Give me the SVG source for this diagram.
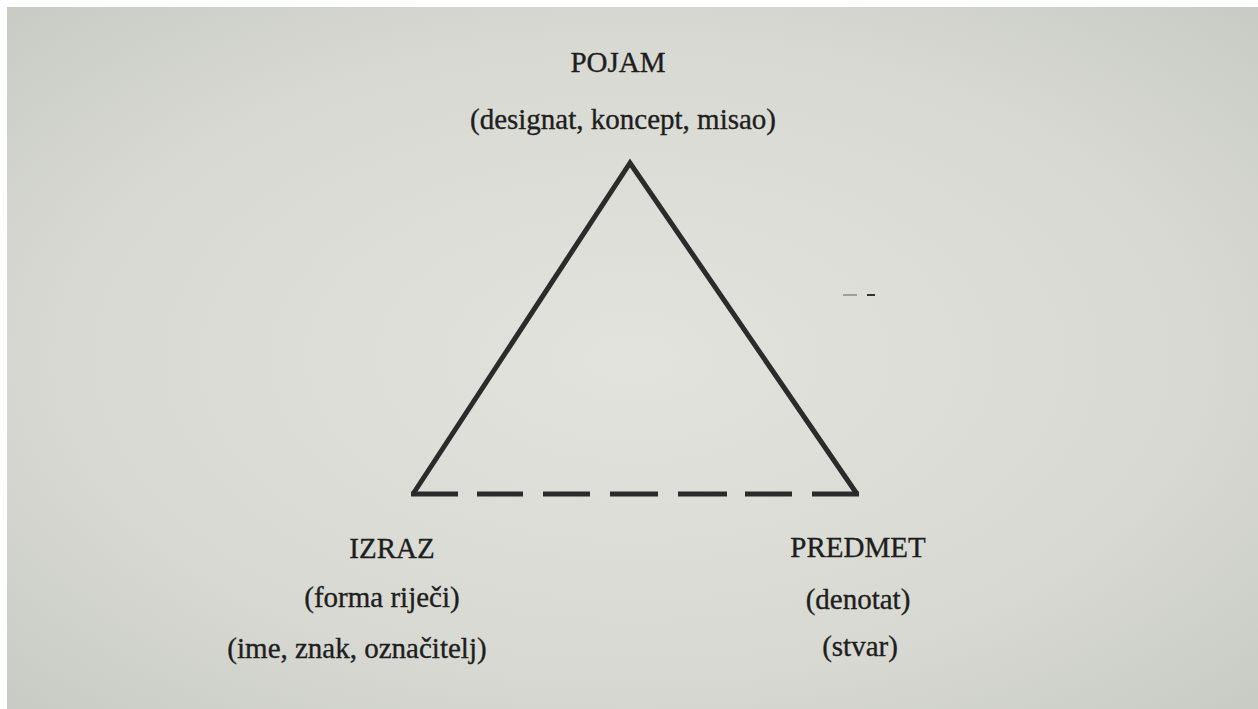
<svg xmlns="http://www.w3.org/2000/svg" width="1258" height="709" viewBox="0 0 1258 709">
<defs>
<radialGradient id="paper" cx="0.5" cy="0.5" r="0.75">
<stop offset="0" stop-color="#e2e3dd"/>
<stop offset="0.6" stop-color="#d8d9d3"/>
<stop offset="1" stop-color="#c6c8c2"/>
</radialGradient>
<style>
.t{font-family:"Liberation Serif","Times New Roman",serif;font-size:29px;fill:#1e1e1e;stroke:#1e1e1e;stroke-width:0.35;text-anchor:middle}
.edge{fill:none;stroke:#2b2b2b;stroke-width:5;stroke-linejoin:miter}
</style>
</defs>
<rect width="1258" height="709" fill="#ffffff"/>
<rect x="7" y="7" width="1251" height="702" fill="url(#paper)"/>
<g id="connectors">
<path class="edge" d="M413,494 L630,163 L857,494"/>
<path class="edge" d="M411,494 H458 M477,494 H523 M543,494 H590 M610,494 H658 M678,494 H727 M745,494 H792 M812,494 H859"/>
</g>
<g id="stray-mark">
<line x1="843" y1="295" x2="857" y2="295" stroke="#888" stroke-width="1.5"/>
<line x1="867" y1="295" x2="875" y2="295" stroke="#333" stroke-width="2"/>
</g>
<g id="node-pojam">
<text class="t" x="618" y="72">POJAM</text>
<text class="t" x="623" y="129">(designat, koncept, misao)</text>
</g>
<g id="node-izraz">
<text class="t" x="392" y="558">IZRAZ</text>
<text class="t" x="382" y="607">(forma riječi)</text>
<text class="t" x="357" y="658">(ime, znak, označitelj)</text>
</g>
<g id="node-predmet">
<text class="t" x="858" y="557">PREDMET</text>
<text class="t" x="858" y="609">(denotat)</text>
<text class="t" x="860" y="656">(stvar)</text>
</g>
</svg>
